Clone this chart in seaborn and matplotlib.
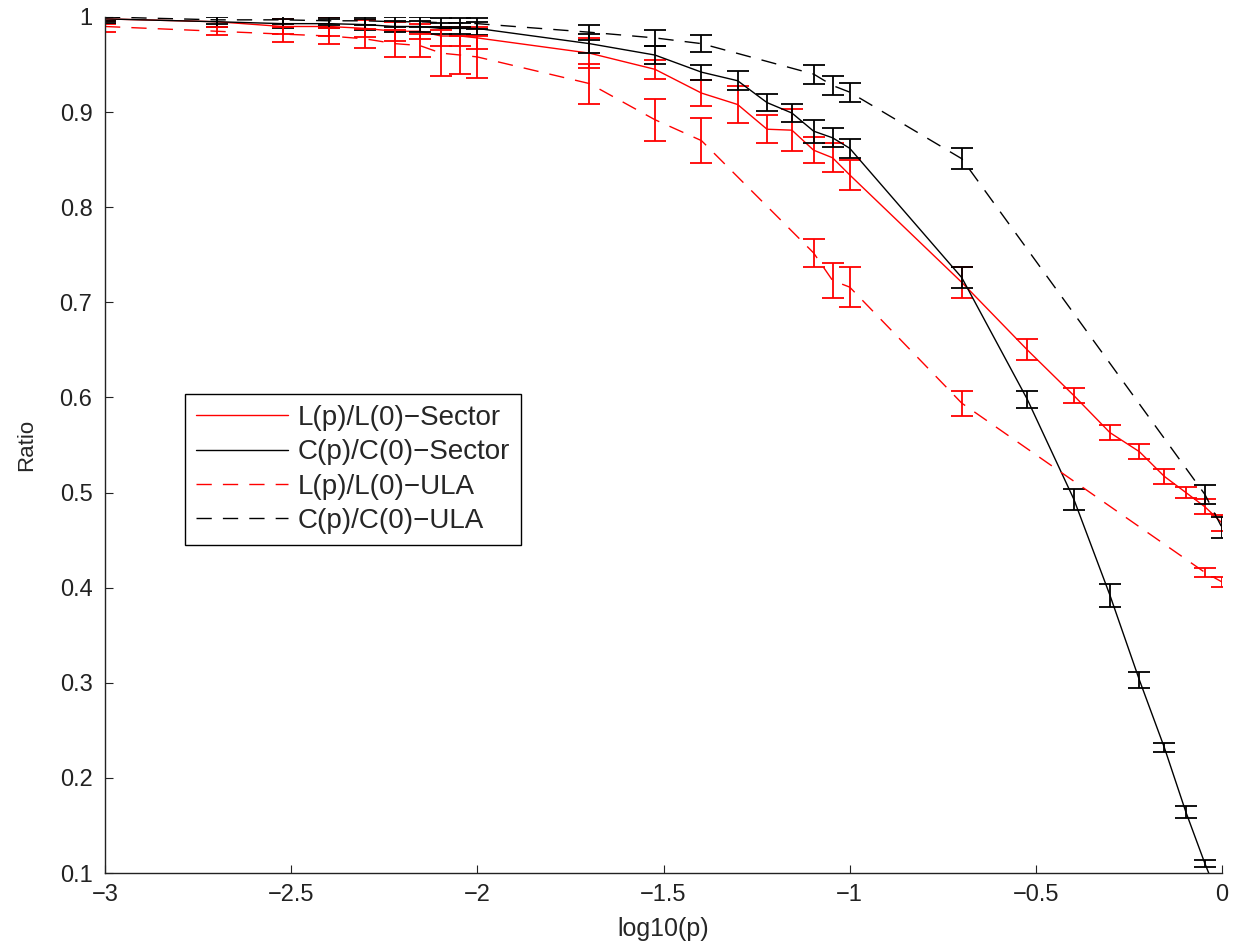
import numpy as np
import pandas as pd
import matplotlib
matplotlib.use("Agg")
import matplotlib.pyplot as plt
import seaborn as sns

# ── data ──────────────────────────────────────────────────
x_sector = [-3, -2.699, -2.523, -2.398, -2.301, -2.222, -2.155, -2.097, -2.046, -2,
            -1.699, -1.523, -1.398, -1.301, -1.222, -1.155, -1.097, -1.046, -1,
            -0.699, -0.523, -0.398, -0.301, -0.222, -0.155, -0.097, -0.046, 0]
x_ula = [-3, -2.699, -2.523, -2.398, -2.301, -2.222, -2.155, -2.097, -2.046, -2,
         -1.699, -1.523, -1.398, -1.097, -1.046, -1, -0.699, -0.046, 0]

l_sector = [0.998, 0.995, 0.990, 0.990, 0.988, 0.985, 0.985, 0.980, 0.980, 0.978,
            0.962, 0.945, 0.920, 0.908, 0.882, 0.881, 0.860, 0.852, 0.834,
            0.721, 0.650, 0.602, 0.563, 0.543, 0.517, 0.500, 0.485, 0.468]
l_sector_err = [0.005, 0.006, 0.008, 0.010, 0.009, 0.010, 0.008, 0.010, 0.010, 0.012,
                0.016, 0.010, 0.014, 0.019, 0.015, 0.022, 0.014, 0.015, 0.016,
                0.016, 0.011, 0.008, 0.008, 0.008, 0.008, 0.006, 0.008, 0.008]

c_sector = [0.998, 0.995, 0.993, 0.993, 0.992, 0.990, 0.990, 0.988, 0.988, 0.988,
            0.972, 0.960, 0.942, 0.933, 0.910, 0.899, 0.880, 0.873, 0.862,
            0.726, 0.598, 0.493, 0.392, 0.303, 0.232, 0.164, 0.110, 0.065]
c_sector_err = [0.004, 0.005, 0.005, 0.005, 0.006, 0.006, 0.006, 0.006, 0.006, 0.007,
                0.010, 0.009, 0.008, 0.010, 0.009, 0.009, 0.012, 0.010, 0.010,
                0.011, 0.009, 0.011, 0.012, 0.008, 0.005, 0.006, 0.004, 0.005]

l_ula = [0.990, 0.985, 0.982, 0.980, 0.977, 0.972, 0.970, 0.962, 0.960, 0.958,
         0.930, 0.892, 0.870, 0.752, 0.723, 0.716, 0.594, 0.416, 0.406]
l_ula_err = [0.006, 0.004, 0.008, 0.008, 0.010, 0.014, 0.012, 0.024, 0.020, 0.022,
             0.021, 0.022, 0.024, 0.015, 0.018, 0.021, 0.013, 0.005, 0.005]

c_ula = [1.000, 0.997, 0.997, 0.996, 0.996, 0.995, 0.995, 0.994, 0.994, 0.993,
         0.984, 0.978, 0.972, 0.940, 0.928, 0.921, 0.851, 0.498, 0.463]
c_ula_err = [0.004, 0.004, 0.004, 0.004, 0.004, 0.005, 0.005, 0.005, 0.005, 0.006,
             0.008, 0.008, 0.009, 0.010, 0.010, 0.010, 0.011, 0.010, 0.011]

x_ticks = [-3, -2.5, -2, -1.5, -1, -0.5, 0]
x_tick_labels = ["\u22123", "\u22122.5", "\u22122", "\u22121.5", "\u22121", "\u22120.5", "0"]
y_ticks = [0.1, 0.2, 0.3, 0.4, 0.5, 0.6, 0.7, 0.8, 0.9, 1.0]
y_tick_labels = ["0.1", "0.2", "0.3", "0.4", "0.5", "0.6", "0.7", "0.8", "0.9", "1"]

# ── style ─────────────────────────────────────────────────
sns.set_style("ticks")
plt.rcParams.update({
    "font.family": ["Liberation Sans", "DejaVu Sans"],
    "xtick.direction": "in",
    "ytick.direction": "in",
    "xtick.major.size": 6,
    "ytick.major.size": 6,
    "axes.linewidth": 1.0,
    "axes.edgecolor": "#222222",
})

series = [
    ("L(p)/L(0)\u2212Sector", x_sector, l_sector, l_sector_err, "red", "-"),
    ("C(p)/C(0)\u2212Sector", x_sector, c_sector, c_sector_err, "black", "-"),
    ("L(p)/L(0)\u2212ULA", x_ula, l_ula, l_ula_err, "red", "--"),
    ("C(p)/C(0)\u2212ULA", x_ula, c_ula, c_ula_err, "black", "--"),
]

fig = plt.figure(figsize=(12.35, 9.44), dpi=100)
ax = fig.add_axes([0.085, 0.0752, 0.9045, 0.9068])

for name, xs, ys, es, color, ls in series:
    df = pd.DataFrame({"x": xs, "y": ys})
    sns.lineplot(data=df, x="x", y="y", ax=ax, color=color, linewidth=1.0,
                 alpha=0.75, label=name, sort=False)
    ax.lines[-1].set_linestyle(ls)
    if ls == "--":
        ax.lines[-1].set_dashes((11, 8))
    ax.errorbar(xs, ys, yerr=es, fmt="none", ecolor=color, elinewidth=1.3,
                capsize=8, capthick=1.3)

ax.set_xlim(-3, 0)
ax.set_ylim(0.1, 1)
ax.set_xticks(x_ticks)
ax.set_xticklabels(x_tick_labels)
ax.set_yticks(y_ticks)
ax.set_yticklabels(y_tick_labels)
ax.tick_params(axis="x", labelsize=17, colors="#222222", pad=8)
ax.tick_params(axis="y", labelsize=17, colors="#222222", pad=9)
ax.set_xlabel("log10(p)", fontsize=18, labelpad=8)
ax.set_ylabel("Ratio", fontsize=16, labelpad=16)
sns.despine(ax=ax)

handles, labels = ax.get_legend_handles_labels()
for h in handles:
    h.set_alpha(1)
    if h.get_linestyle() == "--":
        h.set_dashes((11, 8))
leg = ax.legend(handles, labels, loc="lower left", bbox_to_anchor=(0.0716, 0.383),
                fontsize=20, frameon=True, fancybox=False, edgecolor="black",
                framealpha=1, handlelength=3.3, borderpad=0.4, labelspacing=0.3,
                handletextpad=0.35, borderaxespad=0)
leg.get_frame().set_linewidth(1.0)

fig.savefig("out.png", dpi=100, facecolor="white")
